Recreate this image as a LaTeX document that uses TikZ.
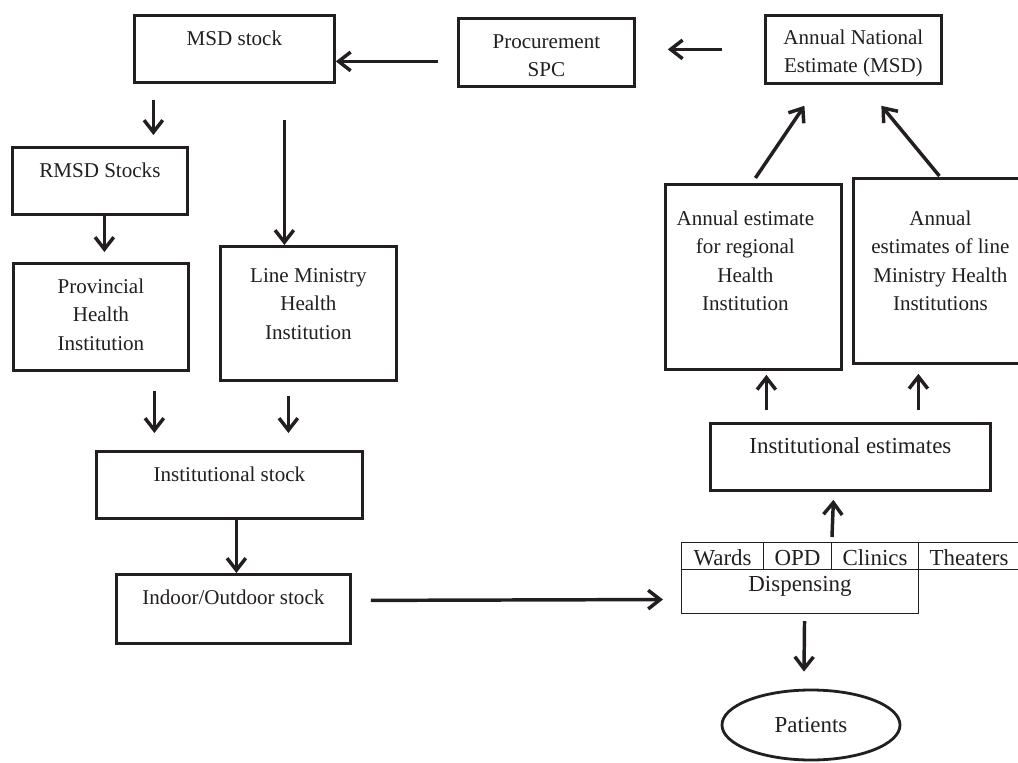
\documentclass[tikz,border=0pt]{standalone}
\usepackage{fontspec}
\setmainfont{Liberation Serif}
\usetikzlibrary{arrows.meta,shapes.geometric}
\newdimen\px \px=0.75pt
\newcommand\fsA{\fontsize{15.8pt}{21.3pt}\selectfont}
\newcommand\fsB{\fontsize{17.2pt}{21.3pt}\selectfont}
\newcommand\bt[5][0]{\parbox[c][#3\px][t]{#2\px}{\centering\rightskip=#1\px plus 1fil\relax\vspace*{\dimexpr#4\px-13pt\relax}\rule{0pt}{13pt}#5}}
\definecolor{ink}{HTML}{231F20}
\tikzset{
  box/.style={draw=ink, line width=2.1pt, inner sep=0pt, anchor=north west, font=\fsA, text=ink},
  cell/.style={draw=ink, line width=0.8pt, inner sep=0pt, anchor=north west, font=\fsB, text=ink},
  arr/.style={draw=ink, line width=2.6pt, -{Straight Barb[length=9pt,width=14pt]}},
}
\begin{document}
\begin{tikzpicture}[x=0.75pt,y=-0.75pt]
\clip (0,0) rectangle (1018,763);
\fill[white] (0,0) rectangle (1018,763);
% boxes
\node[box] (msd) at (133,14) {\bt{200}{67}{30}{MSD stock}};
\node[box] (proc) at (457,17) {\bt{176}{68}{30}{Procurement\\SPC}};
\node[box] (ane) at (764,14) {\bt{176}{68}{29}{Annual National\\Estimate (MSD)}};
\node[box] (rmsd) at (11,146) {\bt{175}{67}{30}{RMSD Stocks}};
\node[box] (prov) at (12,262) {\bt{175}{107}{30}{Provincial\\Health\\Institution}};
\node[box] (lmhi) at (219,245) {\bt{176}{134}{36}{Line Ministry\\Health\\Institution}};
\node[box] (inst) at (95,450) {\bt{266}{67}{30}{Institutional stock}};
\node[box] (indoor) at (115,573) {\bt{234}{69}{30}{Indoor/Outdoor stock}};
\node[box] (reg) at (664,183) {\bt[16]{176}{185}{41}{Annual estimate\\for regional\\Health\\Institution}};
\node[box] (lmest) at (852,177) {\bt{174}{185}{47}{Annual\\estimates of line\\Ministry Health\\Institutions}};
\node[box, font=\fsB] (iest) at (709,422) {\bt{280}{67}{30}{Institutional estimates}};
% table
\node[cell] (wards) at (681,542) {\bt{82}{27}{23}{Wards}};
\node[cell] (opd) at (763,542) {\bt{68}{27}{23}{OPD}};
\node[cell] (clin) at (831,542) {\bt{87}{27}{23}{Clinics}};
\node[cell] (thea) at (918,542) {\bt{101}{27}{23}{Theaters}};
\node[cell] (disp) at (681,569) {\bt{237}{44}{22}{Dispensing}};
% patients
\node[draw=ink, text=ink, ellipse, line width=2.1pt, inner sep=0pt, minimum width=133.5pt, minimum height=52.5pt, font=\fsB] (pat) at (811,725) {Patients};
% arrows
\draw[arr] ([shift={(-19,9)}]proc.west) -- ([shift={(0,12.5)}]msd.east);
\draw[arr] ([shift={(-42,0)}]ane.west) -- ([shift={(32,0)}]proc.east |- ane.west);
\draw[arr] ([shift={(-81,16)}]msd.south) -- ([shift={(53.5,-11)}]rmsd.north);
\draw[arr] ([shift={(50,36)}]msd.south) -- ([shift={(-24,0)}]lmhi.north);
\draw[arr] ([shift={(4.5,0)}]rmsd.south) -- ([shift={(3.5,-10)}]prov.north);
\draw[arr] ([shift={(53.5,19)}]prov.south) -- ([shift={(-75,-17)}]inst.north);
\draw[arr] ([shift={(-20,14)}]lmhi.south) -- ([shift={(59,-17)}]inst.north);
\draw[arr] ([shift={(7,0)}]inst.south) -- ([shift={(3,0)}]indoor.north);
\draw[arr] ([shift={(19,-8.5)}]indoor.east) -- ([shift={(-18,8)}]disp.west);
\draw[arr] ([shift={(1,-5)}]clin.north west) -- ([shift={(-17,8)}]iest.south);
\draw[arr] ([shift={(-84,-12)}]iest.north) -- ([shift={(13,4)}]reg.south);
\draw[arr] ([shift={(68,-12)}]iest.north) -- ([shift={(-22,9)}]lmest.south);
\draw[arr] ([shift={(2,-5)}]reg.north) -- ([shift={(-49,21)}]ane.south);
\draw[arr] ([shift={(-1,-1)}]lmest.north) -- ([shift={(28,21)}]ane.south);
\draw[arr] ([shift={(4.5,7)}]disp.south) -- ([shift={(-7,-17)}]pat.north);
\end{tikzpicture}
\end{document}
